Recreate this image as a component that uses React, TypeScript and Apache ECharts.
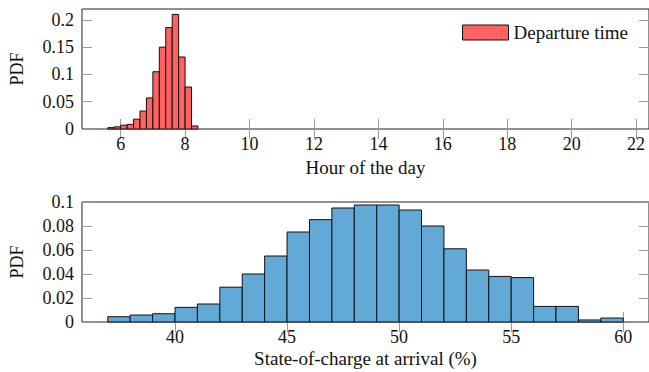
import React, { useEffect, useRef } from "react";
import * as echarts from "echarts";

// Departure time histogram (bin start hours, width 0.2 h)
const depBinStart = [5.6, 5.8, 6.0, 6.2, 6.4, 6.6, 6.8, 7.0, 7.2, 7.4, 7.6, 7.8, 8.0, 8.2];
const depBinWidth = 0.2;
const depPdf = [0.0025, 0.004, 0.007, 0.0085, 0.018, 0.033, 0.057, 0.105, 0.15, 0.186, 0.21, 0.132, 0.077, 0.0055];

// State-of-charge histogram (bin start %, width 1)
const socBinStart = [37, 38, 39, 40, 41, 42, 43, 44, 45, 46, 47, 48, 49, 50, 51, 52, 53, 54, 55, 56, 57, 58, 59];
const socBinWidth = 1;
const socPdf = [0.0044, 0.0058, 0.0069, 0.0122, 0.015, 0.029, 0.04, 0.055, 0.075, 0.0853, 0.095, 0.0975, 0.0975, 0.0933, 0.08, 0.061, 0.0433, 0.038, 0.037, 0.013, 0.013, 0.0017, 0.0033];

const hourTicks = [6, 8, 10, 12, 14, 16, 18, 20, 22];
const pdfTicksTop = [0, 0.05, 0.1, 0.15, 0.2];
const socTicks = [40, 45, 50, 55, 60];
const pdfTicksBottom = [0, 0.02, 0.04, 0.06, 0.08, 0.1];

const FONT = '"Liberation Serif", serif';
const TICK_COLOR = "#9a9a9a";

function histData(starts: number[], width: number, vals: number[]) {
  return starts.map((s, i) => [s, s + width, vals[i]]);
}

function renderBar(fill: string) {
  return (_params: any, api: any) => {
    const x0 = api.value(0);
    const x1 = api.value(1);
    const y = api.value(2);
    const p0 = api.coord([x0, y]);
    const p1 = api.coord([x1, 0]);
    return {
      type: "rect",
      shape: { x: p0[0], y: p0[1], width: p1[0] - p0[0], height: p1[1] - p0[1] },
      style: { fill, stroke: "#111", lineWidth: 1 },
    };
  };
}

function xAxisPair(gridIndex: number, min: number, max: number, ticks: number[], name: string, nameGap: number) {
  return [
    {
      type: "value",
      gridIndex,
      position: "bottom",
      min,
      max,
      name,
      nameLocation: "middle",
      nameGap,
      nameTextStyle: { fontFamily: FONT, fontSize: 19, color: "#111" },
      axisLine: { show: false },
      axisTick: { show: true, inside: true, length: 10, customValues: ticks, lineStyle: { color: TICK_COLOR, width: 1 } },
      axisLabel: { show: true, customValues: ticks, margin: 6, fontFamily: FONT, fontSize: 18, color: "#111" },
      splitLine: { show: false },
    },
    {
      type: "value",
      gridIndex,
      position: "top",
      min,
      max,
      axisLine: { show: false },
      axisTick: { show: true, inside: true, length: 10, customValues: ticks, lineStyle: { color: TICK_COLOR, width: 1 } },
      axisLabel: { show: false },
      splitLine: { show: false },
    },
  ];
}

function yAxisPair(gridIndex: number, max: number, ticks: number[]) {
  return [
    {
      type: "value",
      gridIndex,
      position: "left",
      min: 0,
      max,
      name: "PDF",
      nameLocation: "middle",
      nameGap: 56,
      nameTextStyle: { fontFamily: FONT, fontSize: 18, color: "#111" },
      axisLine: { show: false },
      axisTick: { show: true, inside: true, length: 10, customValues: ticks, lineStyle: { color: TICK_COLOR, width: 1 } },
      axisLabel: { show: true, customValues: ticks, margin: 8, fontFamily: FONT, fontSize: 18, color: "#111" },
      splitLine: { show: false },
    },
    {
      type: "value",
      gridIndex,
      position: "right",
      min: 0,
      max,
      axisLine: { show: false },
      axisTick: { show: true, inside: true, length: 10, customValues: ticks, lineStyle: { color: TICK_COLOR, width: 1 } },
      axisLabel: { show: false },
      splitLine: { show: false },
    },
  ];
}

export default function App() {
  const ref = useRef<HTMLDivElement>(null);

  useEffect(() => {
    document.body.style.margin = "0";
    if (!ref.current) return;
    const chart = echarts.init(ref.current, null, { renderer: "svg" });
    const option: any = {
      animation: false,
      backgroundColor: "#ffffff",
      grid: [
        { left: 79, top: 9, width: 573, height: 120, show: true, borderColor: "#222", borderWidth: 1, backgroundColor: "transparent" },
        { left: 79, top: 202, width: 573, height: 120, show: true, borderColor: "#222", borderWidth: 1, backgroundColor: "transparent" },
      ],
      xAxis: [
        ...xAxisPair(0, 4.8, 22.4, hourTicks, "Hour of the day", 29),
        ...xAxisPair(1, 35.85, 61.15, socTicks, "State-of-charge at arrival (%)", 27),
      ],
      yAxis: [...yAxisPair(0, 0.22, pdfTicksTop), ...yAxisPair(1, 0.1, pdfTicksBottom)],
      legend: {
        data: [
          {
            name: "Departure time",
            icon: "rect",
            itemStyle: { color: "#ff6262", borderColor: "#111", borderWidth: 1 },
          },
        ],
        left: 462,
        top: 23,
        padding: 0,
        itemWidth: 46,
        itemHeight: 15,
        textStyle: { fontFamily: FONT, fontSize: 19, color: "#111" },
      },
      series: [
        {
          name: "Departure time",
          type: "custom",
          xAxisIndex: 0,
          yAxisIndex: 0,
          itemStyle: { color: "#ff6262" },
          encode: { x: [0, 1], y: 2 },
          renderItem: renderBar("#ff6262"),
          data: histData(depBinStart, depBinWidth, depPdf),
        },
        {
          name: "State-of-charge",
          type: "custom",
          xAxisIndex: 2,
          yAxisIndex: 2,
          itemStyle: { color: "#63a9d7" },
          encode: { x: [0, 1], y: 2 },
          renderItem: renderBar("#63a9d7"),
          data: histData(socBinStart, socBinWidth, socPdf),
        },
      ],
    };
    chart.setOption(option);
    return () => chart.dispose();
  }, []);

  return (
    <div style={{ width: 649, height: 372, overflow: "hidden", position: "relative" }}>
      <div ref={ref} style={{ width: 649, height: 372 }} />
    </div>
  );
}
